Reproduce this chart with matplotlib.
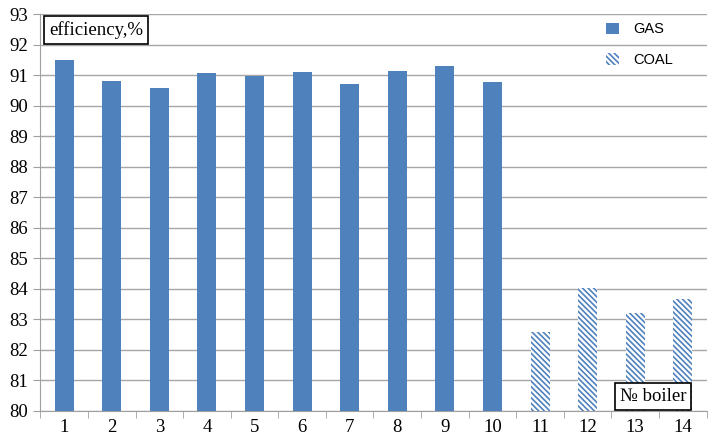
import numpy as np
import matplotlib
matplotlib.use("Agg")
from matplotlib import pyplot as plt

# boiler numbers and efficiency values
boilers = list(range(1, 15))
gas_boilers = boilers[:10]
gas_eff = [91.5, 90.82, 90.58, 91.07, 90.97, 91.1, 90.7, 91.12, 91.3, 90.78]
coal_boilers = boilers[10:]
coal_eff = [82.57, 84.02, 83.22, 83.66]

blue = "#4F81BD"
plt.rcParams["hatch.linewidth"] = 1.2
plt.rcParams["hatch.color"] = blue

fig = plt.figure(figsize=(7.08, 4.40), dpi=100)
ax = fig.add_axes([0.057, 0.066, 0.941, 0.902])

ax.bar(gas_boilers, gas_eff, width=0.4, color=blue, label="GAS", zorder=3)
ax.bar(coal_boilers, coal_eff, width=0.4, color="white", edgecolor=blue,
       linewidth=0, hatch="\\\\\\\\\\\\", label="COAL", zorder=3)

ax.set_ylim(80, 93)
ax.set_xlim(0.5, 14.5)
ax.set_yticks(range(80, 94))
ax.set_xticks(boilers)
ax.set_xticks(np.arange(0.5, 15, 1), minor=True)
ax.tick_params(axis="x", which="major", length=0, pad=6)
ax.tick_params(axis="x", which="minor", length=5, color="#A0A0A0")
ax.tick_params(axis="y", length=5, color="#A0A0A0", pad=4)
for lab in ax.get_xticklabels() + ax.get_yticklabels():
    lab.set_fontfamily("Liberation Serif")
    lab.set_fontsize(13.5)

ax.grid(axis="y", color="#A6A6A6", linewidth=1, zorder=0)
for s in ["top", "right"]:
    ax.spines[s].set_visible(False)
ax.spines["left"].set_color("#A0A0A0")
ax.spines["bottom"].set_color("#A0A0A0")

leg = ax.legend(loc="upper left", bbox_to_anchor=(0.83, 1.012), frameon=False,
                prop={"family": "Liberation Sans", "size": 10.5}, handlelength=0.85,
                handleheight=0.85, labelspacing=1.15, handletextpad=1.0)

box = dict(boxstyle="square,pad=0.25", facecolor="white", edgecolor="black", linewidth=1.2)
fig.text(0.069, 0.932, "efficiency,%", fontfamily="Liberation Serif", fontsize=13.5,
         va="center", ha="left", bbox=box, zorder=5)
fig.text(0.875, 0.099, "№ boiler", fontfamily="Liberation Serif", fontsize=13.5,
         va="center", ha="left", bbox=box, zorder=5)

fig.savefig("out.png", dpi=100)
